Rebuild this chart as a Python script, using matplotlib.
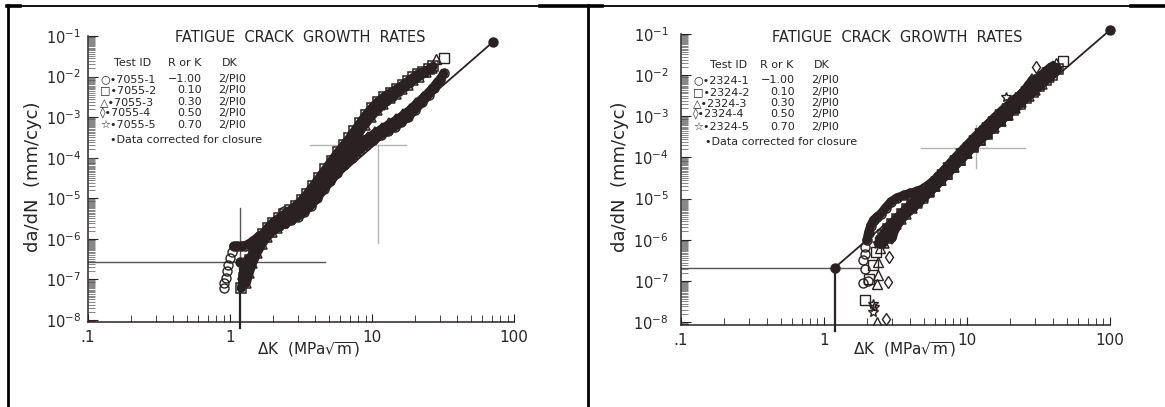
import numpy as np
import matplotlib.pyplot as plt
from matplotlib.lines import Line2D
from matplotlib.ticker import LogLocator, FixedLocator, FixedFormatter, NullFormatter, LogFormatterSciNotation

W, H = 1165, 407
INK = "#2a2222"
TXT = "#262626"

# ---------------- specimen set 7055 (left chart) ----------------
k_7055_1 = [1.06, 1.12, 1.19, 1.27, 1.36, 1.46, 1.6, 1.78, 1.98, 2.2, 2.45, 2.7, 3.0, 3.3, 3.7, 4.1, 4.6, 5.1,
            5.7, 6.4, 7.2, 8.1, 9.1, 10.2, 11.5, 13, 14.5, 16, 18, 20, 22.5, 25, 27.5, 30, 32]
rate_7055_1 = [6.5e-7, 6.5e-7, 6.5e-7, 6.8e-7, 7.5e-7, 9e-7, 1.15e-6, 1.45e-6, 1.75e-6, 2.1e-6, 2.5e-6, 2.9e-6,
               3.5e-6, 4.5e-6, 6.5e-6, 1e-5, 1.7e-5, 2.6e-5, 4.2e-5, 6.5e-5, 1e-4, 1.5e-4, 2.1e-4, 2.8e-4,
               3.6e-4, 4.6e-4, 5.8e-4, 7.5e-4, 1e-3, 1.5e-3, 2.3e-3, 3.5e-3, 5.3e-3, 8e-3, 1.2e-2]
k_7055_1_pts = [0.90, 0.91, 0.93, 0.95, 0.97, 1.0, 1.03, 2.4]
rate_7055_1_pts = [6e-8, 8e-8, 1.1e-7, 1.6e-7, 2.3e-7, 3.3e-7, 4.8e-7, 4.8e-6]

k_7055_2 = [1.2, 1.25, 1.3, 1.38, 1.48, 1.6, 1.72, 1.85, 2.0, 2.2, 2.4, 2.65, 2.9, 3.2, 3.5, 3.85, 4.25, 4.7,
            5.2, 5.75, 6.3, 6.9, 7.5, 8.2, 9.0, 10, 11, 12.2, 13.5, 15, 16.5, 18, 19.5, 21, 23, 25, 27]
rate_7055_2 = [6e-8, 1.1e-7, 1.8e-7, 3e-7, 5e-7, 8e-7, 1.3e-6, 1.9e-6, 2.5e-6, 3.2e-6, 4e-6, 5e-6, 6.5e-6,
               9e-6, 1.3e-5, 2e-5, 3.2e-5, 5.2e-5, 8.5e-5, 1.35e-4, 2e-4, 3e-4, 4.5e-4, 7e-4, 1.1e-3, 1.7e-3,
               2.4e-3, 3.2e-3, 4e-3, 5e-3, 6.2e-3, 7.8e-3, 9.5e-3, 1.15e-2, 1.3e-2, 1.5e-2, 1.8e-2]
k_7055_2_pts = [31.9]
rate_7055_2_pts = [2.9e-2]

k_7055_3 = [1.3, 1.36, 1.44, 1.55, 1.68, 1.82, 1.98, 2.15, 2.35, 2.6, 2.85, 3.15, 3.45, 3.8, 4.2, 4.65, 5.1,
            5.6, 6.15, 6.75, 7.4, 8.1, 8.9, 9.8, 10.8, 12, 13.3, 14.7, 16.2, 17.8, 19.5, 21.5, 24, 26.5]
rate_7055_3 = [8e-8, 1.4e-7, 2.5e-7, 4.5e-7, 7.5e-7, 1.1e-6, 1.5e-6, 1.9e-6, 2.4e-6, 3.1e-6, 4e-6, 5.5e-6,
               7.8e-6, 1.15e-5, 1.8e-5, 2.9e-5, 4.6e-5, 7.4e-5, 1.15e-4, 1.75e-4, 2.7e-4, 4.2e-4, 6.5e-4,
               1e-3, 1.5e-3, 2.1e-3, 2.9e-3, 3.8e-3, 4.9e-3, 6.2e-3, 8e-3, 1e-2, 1.3e-2, 1.6e-2]
k_7055_3_pts = [28.3]
rate_7055_3_pts = [2.7e-2]

k_7055_4 = [1.22, 1.28, 1.33, 1.4, 1.5, 1.62, 1.75, 1.9, 2.1, 2.3, 2.55, 2.8, 3.1, 3.45, 3.85, 4.3, 4.8, 5.35,
            6.0, 6.7, 7.5, 8.4, 9.4, 10.5, 11.8, 13.2, 14.8, 16.5, 18.5, 20.5, 23, 25.5, 28, 30.5]
rate_7055_4 = [1e-7, 1.6e-7, 2.4e-7, 3.5e-7, 5.5e-7, 8.5e-7, 1.2e-6, 1.6e-6, 2e-6, 2.5e-6, 3.1e-6, 3.9e-6,
               5.2e-6, 7.5e-6, 1.15e-5, 1.8e-5, 2.9e-5, 4.6e-5, 7.2e-5, 1.1e-4, 1.6e-4, 2.3e-4, 3.1e-4, 4e-4,
               5.2e-4, 6.6e-4, 8.4e-4, 1.1e-3, 1.5e-3, 2.1e-3, 3e-3, 4.3e-3, 6.2e-3, 9e-3]
k_7055_4_pts = []
rate_7055_4_pts = []

k_7055_5 = [1.25, 1.32, 1.4, 1.5, 1.62, 1.76, 1.92, 2.1, 2.3, 2.5, 2.75, 3.0, 3.3, 3.65, 4.0, 4.4, 4.85, 5.35,
            5.9, 6.5, 7.1, 7.7, 8.3, 9.0, 9.8, 10.7, 11.7, 12.8, 14, 15.5, 17, 18.5]
rate_7055_5 = [1.2e-7, 2e-7, 3.2e-7, 5e-7, 7.5e-7, 1.05e-6, 1.4e-6, 1.8e-6, 2.3e-6, 2.8e-6, 3.5e-6, 4.5e-6,
               6e-6, 8.5e-6, 1.25e-5, 1.9e-5, 3e-5, 4.8e-5, 7.5e-5, 1.15e-4, 1.8e-4, 3e-4, 5e-4, 7.5e-4,
               1.05e-3, 1.4e-3, 1.9e-3, 2.5e-3, 3.2e-3, 4.2e-3, 5.5e-3, 7e-3]
k_7055_5_pts = []
rate_7055_5_pts = []

# ---------------- specimen set 2324 (right chart) ----------------
k_2324_1 = [2.0, 2.05, 2.12, 2.22, 2.35, 2.5, 2.7, 2.95, 3.25, 3.6, 4.0, 4.5, 5.0, 5.6, 6.3, 7.0, 7.8, 8.7, 9.7,
            10.8, 12, 13.5, 15, 17, 19, 21.5, 24, 27, 30, 33]
rate_2324_1 = [1e-6, 1.5e-6, 2.2e-6, 3e-6, 3.6e-6, 4.3e-6, 6e-6, 8.5e-6, 1.05e-5, 1.2e-5, 1.35e-5, 1.5e-5,
               1.8e-5, 2.4e-5, 3.5e-5, 5e-5, 7.2e-5, 1.05e-4, 1.5e-4, 2.1e-4, 2.8e-4, 3.8e-4, 5.2e-4, 7.5e-4,
               1.1e-3, 1.6e-3, 2.4e-3, 3.6e-3, 5.3e-3, 7.5e-3]
k_2324_1_pts = [1.86, 2.04, 1.93, 1.88, 1.95, 1.93]
rate_2324_1_pts = [8.9e-8, 1.0e-7, 2.0e-7, 3.2e-7, 4.6e-7, 6.6e-7]

k_2324_2 = [2.6, 2.8, 3.0, 3.25, 3.5, 3.8, 4.1, 4.5, 4.9, 5.4, 5.9, 6.5, 7.2, 8.0, 8.9, 9.9, 11, 12.3, 13.7,
            15.3, 17, 19, 21, 23.5, 26, 29, 32, 35.5, 39, 43]
rate_2324_2 = [1.3e-6, 1.8e-6, 2.4e-6, 3.2e-6, 4.2e-6, 5.5e-6, 7e-6, 9e-6, 1.15e-5, 1.5e-5, 2e-5, 2.8e-5,
               4e-5, 5.8e-5, 8.5e-5, 1.25e-4, 1.8e-4, 2.6e-4, 3.7e-4, 5.3e-4, 7.5e-4, 1.05e-3, 1.45e-3,
               2e-3, 2.8e-3, 3.9e-3, 5.4e-3, 7.5e-3, 1e-2, 1.4e-2]
k_2324_2_pts = [1.93, 2.05, 2.2, 2.3, 2.45, 47]
rate_2324_2_pts = [3.5e-8, 1.1e-7, 2.5e-7, 5e-7, 9e-7, 2.2e-2]

k_2324_3 = [2.62, 2.72, 2.85, 3.0, 3.2, 3.45, 3.75, 4.1, 4.5, 4.95, 5.45, 6.0, 6.6, 7.3, 8.1, 9.0, 10, 11.1,
            12.4, 13.8, 15.4, 17.2, 19.2, 21.5, 24, 27, 30, 33.5, 37.5]
rate_2324_3 = [8.5e-7, 1.1e-6, 1.4e-6, 1.8e-6, 2.4e-6, 3.2e-6, 4.3e-6, 5.8e-6, 7.8e-6, 1.05e-5, 1.45e-5, 2e-5,
               2.8e-5, 4e-5, 5.8e-5, 8.5e-5, 1.25e-4, 1.85e-4, 2.7e-4, 3.9e-4, 5.5e-4, 7.8e-4, 1.1e-3,
               1.55e-3, 2.2e-3, 3.1e-3, 4.4e-3, 6.2e-3, 9e-3]
k_2324_3_pts = [2.33, 2.36, 2.40, 2.40, 2.46, 42]
rate_2324_3_pts = [1.0e-8, 8.3e-8, 1.4e-7, 2.9e-7, 6.2e-7, 2.0e-2]

k_2324_4 = [3.0, 3.1, 3.25, 3.45, 3.7, 4.0, 4.35, 4.75, 5.2, 5.7, 6.25, 6.9, 7.6, 8.4, 9.3, 10.3, 11.4, 12.6,
            14, 15.5, 17.2, 19, 21, 23.5, 26, 28.5]
rate_2324_4 = [1.1e-6, 1.6e-6, 2.2e-6, 3e-6, 4e-6, 5.2e-6, 6.8e-6, 9e-6, 1.2e-5, 1.65e-5, 2.3e-5, 3.3e-5,
               4.8e-5, 7e-5, 1.05e-4, 1.55e-4, 2.3e-4, 3.4e-4, 5e-4, 7.3e-4, 1.05e-3, 1.5e-3, 2.2e-3, 3.2e-3,
               4.8e-3, 7.5e-3]
k_2324_4_pts = [2.71, 2.81, 2.86, 30.4]
rate_2324_4_pts = [1.2e-8, 9.5e-8, 3.9e-7, 1.6e-2]

k_2324_5 = [2.4, 2.5, 2.65, 2.85, 3.05, 3.3, 3.55, 3.85, 4.2, 4.6, 5.05, 5.55, 6.1, 6.7, 7.4, 8.2, 9.1, 10.1,
            11.2, 12.4, 13.8, 15.3, 17, 19, 21, 23.5, 26, 29, 32, 36, 40]
rate_2324_5 = [8.1e-7, 1.1e-6, 1.5e-6, 2e-6, 2.7e-6, 3.6e-6, 4.7e-6, 6.2e-6, 8.2e-6, 1.1e-5, 1.5e-5, 2.1e-5,
               3e-5, 4.4e-5, 6.5e-5, 9.6e-5, 1.4e-4, 2.05e-4, 3e-4, 4.3e-4, 6.2e-4, 8.8e-4, 1.25e-3, 1.75e-3,
               2.4e-3, 3.3e-3, 4.6e-3, 6.5e-3, 9e-3, 1.3e-2, 1.7e-2]
k_2324_5_pts = [2.21, 2.25, 2.21, 18.7]
rate_2324_5_pts = [1.75e-8, 2.3e-8, 2.8e-8, 2.9e-3]

# ---------------- legend table + reference lines ----------------
test_ids_7055 = ["7055-1", "7055-2", "7055-3", "7055-4", "7055-5"]
test_ids_2324 = ["2324-1", "2324-2", "2324-3", "2324-4", "2324-5"]
r_ratios = [-1.00, 0.10, 0.30, 0.50, 0.70]
dk_method = ["2/PI0"] * 5
legend_syms = ["○", "□", "△", "◊", "☆"]
markers = ["o", "s", "^", "d", "*"]

x_ticks = [0.1, 1, 10, 100]
x_ticklabels = [".1", "1", "10", "100"]
y_ticks = [1e-8, 1e-7, 1e-6, 1e-5, 1e-4, 1e-3, 1e-2, 1e-1]

# fitted line (lower, upper end) and the two cross-hair markers
fit_k_7055, fit_rate_7055 = [1.17, 71.0], [2.7e-7, 7.1e-2]
fit_k_2324, fit_rate_2324 = [1.19, 100.0], [2.1e-7, 1.25e-1]
cross_7055 = dict(v_k=1.17, v_top=5.8e-6, h_rate=2.7e-7, h_right=4.67,
                  k2=11.0, r2=2.1e-4, h2=(3.66, 17.4), v2=(8e-7, 2.1e-4))
cross_2324 = dict(v_k=1.19, v_top=2.1e-7, h_rate=2.1e-7, h_right=1.81,
                  k2=11.6, r2=1.7e-4, h2=(4.77, 25.5), v2=(5.5e-5, 6.2e-4))

panels = [
    dict(rect=(88, 36, 514, 322), ylow=-8.05, pad_y=5,
         bands=[(k_7055_1, rate_7055_1), (k_7055_2, rate_7055_2), (k_7055_3, rate_7055_3),
                (k_7055_4, rate_7055_4), (k_7055_5, rate_7055_5)],
         pts=[(k_7055_1_pts, rate_7055_1_pts), (k_7055_2_pts, rate_7055_2_pts), (k_7055_3_pts, rate_7055_3_pts),
              (k_7055_4_pts, rate_7055_4_pts), (k_7055_5_pts, rate_7055_5_pts)],
         fit=(fit_k_7055, fit_rate_7055), cross=cross_7055, ids=test_ids_7055,
         title_x=300, ylab_x=33, xlab_x=308,
         leg=dict(hy=63, tid=114, rk=168, dk=222, rows=[79, 90, 102, 113, 125], sym=100, rr=202, dkr=218,
                  note=(110, 140))),
    dict(rect=(681, 34, 1110, 325), ylow=-8.07, pad_y=9,
         bands=[(k_2324_1, rate_2324_1), (k_2324_2, rate_2324_2), (k_2324_3, rate_2324_3),
                (k_2324_4, rate_2324_4), (k_2324_5, rate_2324_5)],
         pts=[(k_2324_1_pts, rate_2324_1_pts), (k_2324_2_pts, rate_2324_2_pts), (k_2324_3_pts, rate_2324_3_pts),
              (k_2324_4_pts, rate_2324_4_pts), (k_2324_5_pts, rate_2324_5_pts)],
         fit=(fit_k_2324, fit_rate_2324), cross=cross_2324, ids=test_ids_2324,
         title_x=897, ylab_x=620, xlab_x=904,
         leg=dict(hy=65, tid=710, rk=760, dk=814, rows=[80, 92, 103, 114, 127], sym=693, rr=795, dkr=811,
                  note=(705, 142))),
]

fig = plt.figure(figsize=(W / 100, H / 100), dpi=100)


def fx(x):
    return x / W


def fy(y):
    return 1 - y / H


for p in panels:
    x0, y0, x1, y1 = p["rect"]
    ax = fig.add_axes([fx(x0), fy(y1), (x1 - x0) / W, (y1 - y0) / H])
    ax.set_xscale("log")
    ax.set_yscale("log")
    ax.set_xlim(0.1, 100)
    ax.set_ylim(10 ** p["ylow"], 0.1)
    ax.patch.set_alpha(0)
    for s in ["top", "right"]:
        ax.spines[s].set_visible(False)
    for s in ["left", "bottom"]:
        ax.spines[s].set_color(INK)
        ax.spines[s].set_linewidth(1.1)

    ax.xaxis.set_major_locator(FixedLocator(x_ticks))
    ax.xaxis.set_major_formatter(FixedFormatter(x_ticklabels))
    ax.xaxis.set_minor_locator(LogLocator(10, subs=np.arange(2, 10), numticks=20))
    ax.xaxis.set_minor_formatter(NullFormatter())
    ax.yaxis.set_major_locator(FixedLocator(y_ticks))
    ax.yaxis.set_major_formatter(LogFormatterSciNotation())
    ax.yaxis.set_minor_locator(LogLocator(10, subs=np.arange(1.6, 10, 0.4), numticks=80))
    ax.yaxis.set_minor_formatter(NullFormatter())
    ax.tick_params(which="both", direction="in", colors=INK, labelcolor=TXT)
    ax.tick_params(axis="x", which="major", length=6, pad=6, labelsize=11)
    ax.tick_params(axis="x", which="minor", length=5)
    ax.tick_params(axis="y", which="major", length=7, pad=p["pad_y"], labelsize=10.5)
    ax.tick_params(axis="y", which="minor", length=5, width=0.5, colors="#555555")

    c = p["cross"]
    bottom = 10 ** (p["ylow"] - 0.15)
    # threshold cross-hair
    ax.plot([c["v_k"], c["v_k"]], [bottom, c["h_rate"]], color=INK, lw=1.6, clip_on=False, zorder=2)
    ax.plot([c["v_k"], c["v_k"]], [c["h_rate"], c["v_top"]], color="#555555", lw=1.0, zorder=2)
    ax.plot([0.1, c["h_right"]], [c["h_rate"], c["h_rate"]], color="#555555", lw=1.0, zorder=2)
    # mid-range cross-hair (faint)
    ax.plot(c["h2"], [c["r2"], c["r2"]], color="#b5b5b5", lw=1.0, zorder=1)
    ax.plot([c["k2"], c["k2"]], c["v2"], color="#b5b5b5", lw=1.0, zorder=1)

    fk, fr = p["fit"]
    ax.plot(fk, fr, color=INK, lw=1.3, marker="o", ms=6.5, mfc=INK, mec=INK, clip_on=False, zorder=2)

    for (k, r), (kp, rp), m in zip(p["bands"], p["pts"], markers):
        ms = 7.5 if m == "*" else 6.5
        ax.plot(k, r, color=INK, lw=6.5, marker=m, ms=ms, mfc="none", mec=INK, mew=1.1,
                solid_capstyle="round", solid_joinstyle="round", zorder=3)
        ax.plot(kp, rp, ls="none", marker=m, ms=ms, mfc="none", mec=INK, mew=1.0, zorder=3)

    # titles and labels
    fig.text(fx(p["title_x"]), fy(37), "FATIGUE  CRACK  GROWTH  RATES", ha="center", va="center",
             fontsize=10.5, color=TXT)
    fig.text(fx(p["ylab_x"]), fy(177), "da/dN  (mm/cyc)", rotation=90, ha="center", va="center",
             fontsize=13, color=TXT)
    fig.text(fx(p["xlab_x"]), fy(350), r"ΔK  (MPa$\sqrt{\mathrm{m}}$)", ha="center", va="center",
             fontsize=11, color=TXT)

    lg = p["leg"]
    fs = 8
    fig.text(fx(lg["tid"]), fy(lg["hy"]), "Test ID", fontsize=fs, va="center", color=TXT)
    fig.text(fx(lg["rk"]), fy(lg["hy"]), "R or K", fontsize=fs, va="center", color=TXT)
    fig.text(fx(lg["dk"]), fy(lg["hy"]), "DK", fontsize=fs, va="center", color=TXT)
    for y, sym, tid, r, dk in zip(lg["rows"], legend_syms, p["ids"], r_ratios, dk_method):
        fig.text(fx(lg["sym"]), fy(y), f"{sym}•{tid}", fontsize=fs, va="center", color=TXT)
        fig.text(fx(lg["rr"]), fy(y), f"{r:.2f}".replace("-", "−"), fontsize=fs, va="center", ha="right",
                 color=TXT)
        fig.text(fx(lg["dkr"]), fy(y), dk, fontsize=fs, va="center", color=TXT)
    fig.text(fx(lg["note"][0]), fy(lg["note"][1]), "•Data corrected for closure", fontsize=fs, va="center",
             color=TXT)

# table frame around the two pictures
frame = dict(color="black", transform=fig.transFigure)
fig.add_artist(Line2D([fx(7), 1], [fy(6), fy(6)], lw=1.3, **frame))
for a, b in [(7, 20), (540, 602), (1131, 1165)]:
    fig.add_artist(Line2D([fx(a), fx(b)], [fy(6), fy(6)], lw=2.6, **frame))
fig.add_artist(Line2D([fx(8), fx(8)], [fy(5), 0], lw=2.0, **frame))
fig.add_artist(Line2D([fx(588), fx(588)], [fy(5), 0], lw=2.0, **frame))

fig.savefig("out.png", dpi=100, facecolor="white")
